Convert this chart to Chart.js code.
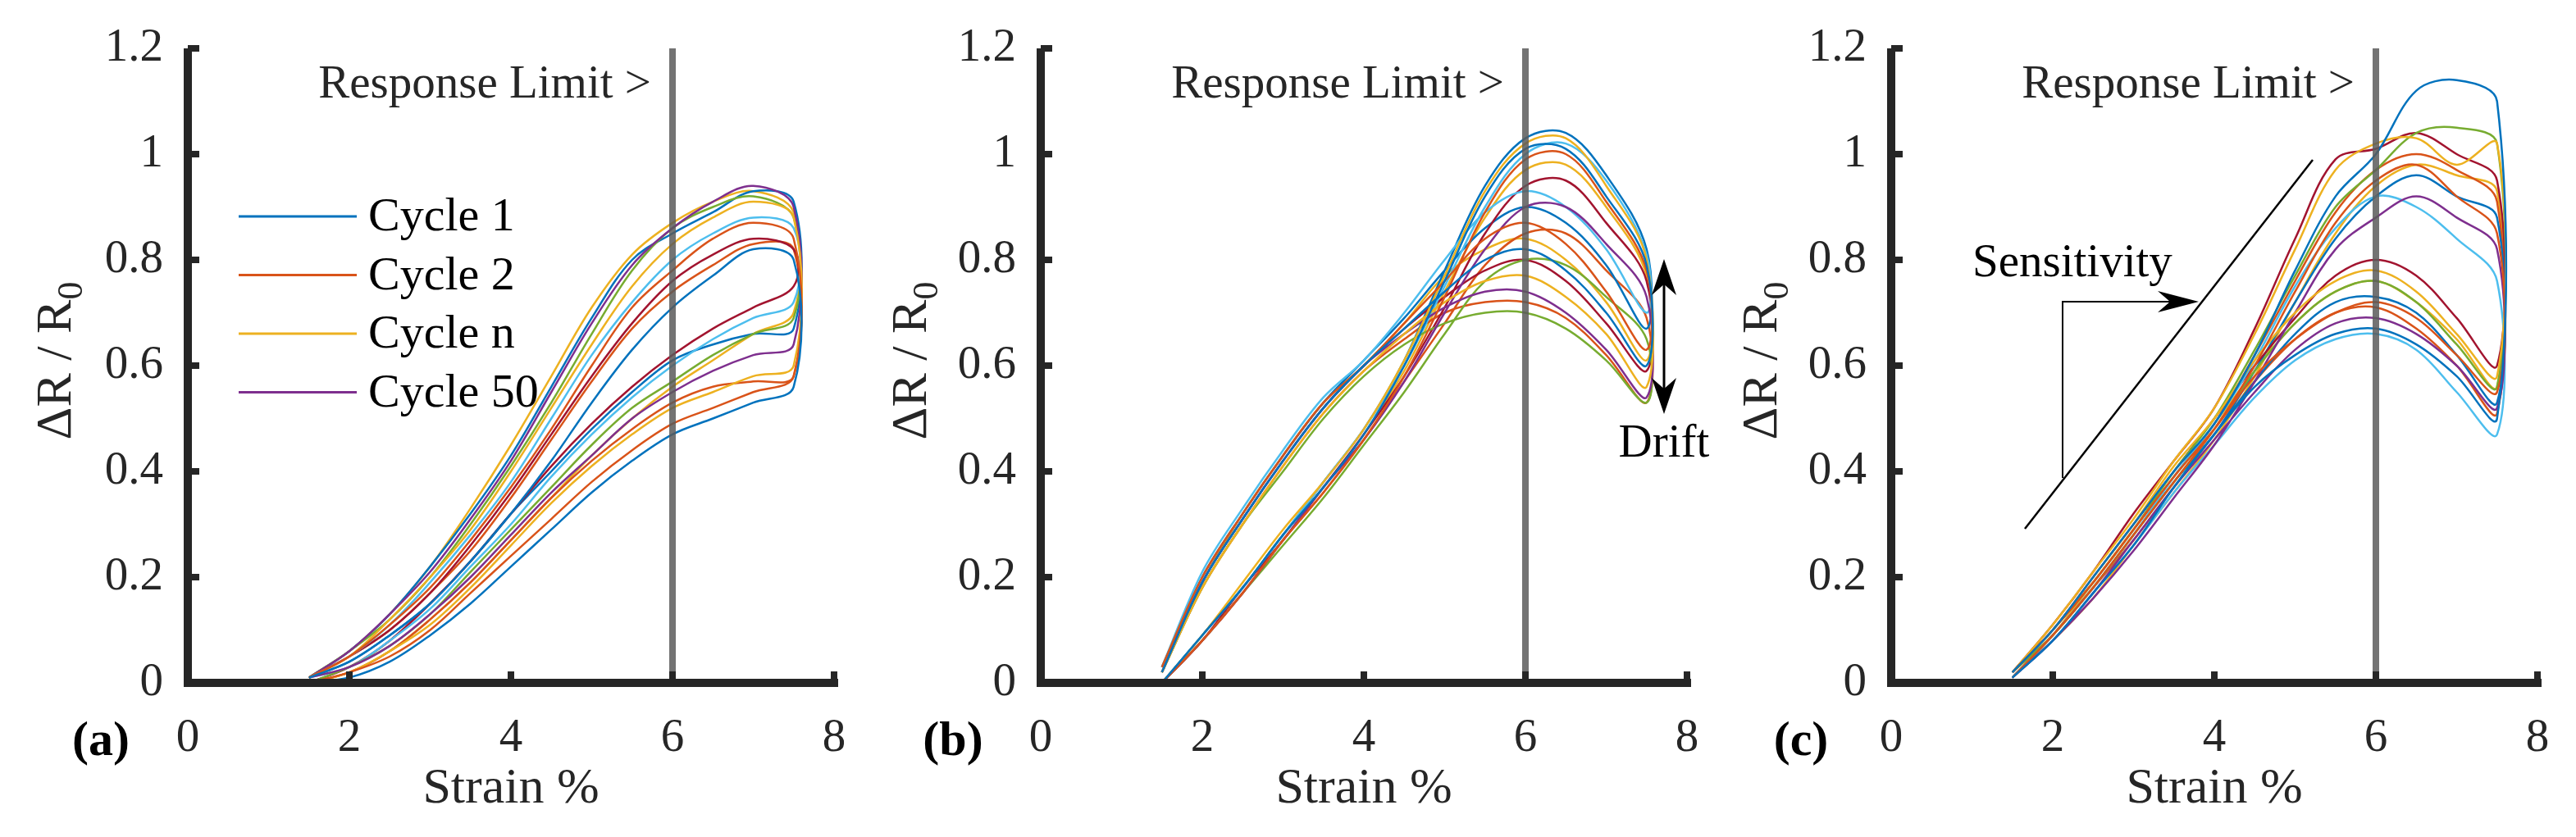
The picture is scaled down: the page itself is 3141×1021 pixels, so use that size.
<!DOCTYPE html>
<html><head><meta charset="utf-8">
<script src="https://cdn.jsdelivr.net/npm/chart.js@4"></script>
<style>body{margin:0;background:#fff;width:3141px;height:1021px;overflow:hidden;position:relative}canvas{position:absolute;top:0}</style>
</head><body>
<canvas id="ca" width="1077" height="1021" style="left:0px"></canvas>
<canvas id="cb" width="1077" height="1021" style="left:1040px"></canvas>
<canvas id="cc" width="1077" height="1021" style="left:2077px"></canvas>
<script>
const strain = [1.5,2,2.5,3,3.5,4,4.5,5,5.5,6,6.5,7,7.5];
const xTicks = [0,2,4,6,8];
const yTicks = [0,0.2,0.4,0.6,0.8,1,1.2];
const responseLimit = 6;
const legendLabels = ['Cycle 1','Cycle 2','Cycle n','Cycle 50'];
const colors = ['#0072BD','#D95319','#EDB120','#7E2F8E','#77AC30','#4DBEEE','#A2142F'];

// panel (a): loading branch / unloading branch per cycle
const aLoad = [
[0,0.01,0.04,0.09,0.15,0.22,0.29,0.36,0.42,0.47,0.50,0.53,0.56],
[0,0.02,0.05,0.10,0.17,0.24,0.31,0.38,0.44,0.49,0.52,0.55,0.58],
[0,0.02,0.06,0.11,0.18,0.26,0.34,0.41,0.47,0.52,0.55,0.58,0.60],
[0.01,0.03,0.07,0.13,0.20,0.28,0.36,0.43,0.50,0.55,0.59,0.62,0.64],
[0,0.03,0.07,0.13,0.21,0.29,0.37,0.45,0.52,0.57,0.62,0.66,0.69],
[0.01,0.03,0.08,0.14,0.22,0.30,0.39,0.47,0.54,0.60,0.65,0.69,0.72],
[0,0.03,0.08,0.15,0.23,0.32,0.41,0.49,0.56,0.62,0.67,0.71,0.75],
[0.01,0.04,0.09,0.15,0.23,0.32,0.40,0.48,0.55,0.61,0.64,0.66,0.67],
[0,0.02,0.06,0.12,0.19,0.27,0.35,0.42,0.48,0.53,0.56,0.57,0.58],
[0,0.02,0.06,0.12,0.19,0.27,0.35,0.43,0.50,0.56,0.61,0.66,0.70]];
const aUnload = [
[0.01,0.04,0.09,0.15,0.23,0.32,0.42,0.53,0.63,0.71,0.77,0.82,0.80],
[0.01,0.05,0.11,0.18,0.27,0.37,0.48,0.60,0.71,0.78,0.84,0.87,0.84],
[0.01,0.05,0.12,0.20,0.29,0.40,0.52,0.64,0.75,0.83,0.88,0.91,0.88],
[0.01,0.06,0.13,0.21,0.31,0.42,0.55,0.68,0.79,0.86,0.91,0.94,0.90],
[0.01,0.06,0.12,0.20,0.30,0.41,0.53,0.66,0.78,0.86,0.90,0.92,0.88],
[0.01,0.05,0.11,0.19,0.28,0.38,0.50,0.62,0.72,0.80,0.85,0.88,0.86],
[0.01,0.05,0.10,0.17,0.26,0.36,0.47,0.58,0.68,0.76,0.81,0.84,0.82],
[0.01,0.06,0.13,0.22,0.32,0.43,0.56,0.69,0.80,0.85,0.89,0.93,0.91],
[0.01,0.05,0.10,0.17,0.25,0.35,0.46,0.57,0.67,0.74,0.79,0.83,0.82],
[0.01,0.06,0.13,0.22,0.33,0.45,0.58,0.71,0.81,0.87,0.91,0.93,0.89]];

// panel (b)
const bLoad = [
[0,0.09,0.18,0.28,0.37,0.47,0.60,0.76,0.92,1.01,1.01,0.92,0.79],
[0,0.08,0.17,0.27,0.36,0.46,0.58,0.73,0.89,0.99,1.00,0.91,0.78],
[0,0.09,0.19,0.29,0.38,0.48,0.61,0.77,0.93,1.02,1.03,0.94,0.80],
[0,0.08,0.17,0.27,0.37,0.46,0.57,0.70,0.82,0.90,0.90,0.83,0.73],
[0,0.08,0.17,0.26,0.35,0.45,0.55,0.66,0.76,0.80,0.79,0.73,0.65],
[0,0.09,0.18,0.28,0.38,0.48,0.60,0.75,0.90,1.00,1.02,0.95,0.81],
[0,0.08,0.18,0.27,0.37,0.47,0.58,0.71,0.85,0.94,0.95,0.87,0.76],
[0,0.09,0.18,0.28,0.38,0.48,0.61,0.78,0.94,1.03,1.04,0.96,0.82],
[0,0.08,0.17,0.27,0.36,0.46,0.57,0.68,0.79,0.85,0.85,0.78,0.69],
[0,0.09,0.18,0.28,0.37,0.47,0.59,0.74,0.88,0.97,0.98,0.90,0.77]];
const bUnload = [
[0.02,0.19,0.31,0.42,0.52,0.60,0.67,0.74,0.80,0.82,0.78,0.70,0.60],
[0.03,0.20,0.32,0.43,0.53,0.60,0.68,0.76,0.84,0.87,0.83,0.74,0.63],
[0.02,0.18,0.30,0.41,0.51,0.59,0.66,0.72,0.76,0.77,0.73,0.66,0.56],
[0.02,0.19,0.31,0.42,0.52,0.60,0.66,0.71,0.74,0.74,0.70,0.63,0.54],
[0.02,0.18,0.30,0.40,0.50,0.58,0.64,0.68,0.70,0.70,0.67,0.61,0.53],
[0.03,0.21,0.33,0.44,0.54,0.61,0.70,0.80,0.89,0.93,0.90,0.82,0.70],
[0.02,0.19,0.31,0.42,0.52,0.60,0.67,0.73,0.78,0.80,0.76,0.68,0.59],
[0.03,0.20,0.32,0.43,0.53,0.61,0.69,0.78,0.86,0.90,0.87,0.79,0.67],
[0.02,0.18,0.30,0.41,0.51,0.59,0.65,0.70,0.72,0.72,0.69,0.62,0.53],
[0.02,0.19,0.32,0.43,0.53,0.60,0.68,0.77,0.82,0.84,0.80,0.72,0.61]];

// panel (c)
const cLoad = [
[0.02,0.10,0.20,0.30,0.40,0.49,0.62,0.78,0.92,1.00,1.12,1.14,1.10],
[0.01,0.09,0.18,0.28,0.38,0.48,0.60,0.74,0.87,0.95,0.98,0.92,0.85],
[0.02,0.11,0.21,0.31,0.42,0.52,0.66,0.82,0.97,1.02,1.03,0.98,1.02],
[0.01,0.08,0.16,0.25,0.35,0.45,0.57,0.70,0.82,0.88,0.92,0.88,0.82],
[0.02,0.10,0.19,0.29,0.40,0.50,0.63,0.77,0.90,0.97,1.04,1.05,1.02],
[0.01,0.09,0.18,0.28,0.39,0.49,0.61,0.75,0.86,0.92,0.90,0.84,0.76],
[0.02,0.11,0.21,0.32,0.42,0.52,0.67,0.84,0.99,1.01,1.04,1.00,0.95],
[0.01,0.09,0.18,0.28,0.38,0.47,0.59,0.72,0.84,0.92,0.96,0.92,0.88],
[0.02,0.10,0.19,0.29,0.39,0.49,0.62,0.76,0.89,0.97,1.00,0.97,0.91],
[0.01,0.08,0.16,0.26,0.36,0.46,0.58,0.72,0.85,0.94,0.98,0.96,0.93]];
const cUnload = [
[0.01,0.08,0.17,0.26,0.37,0.47,0.56,0.62,0.66,0.67,0.64,0.58,0.50],
[0.02,0.10,0.19,0.29,0.39,0.48,0.58,0.65,0.70,0.72,0.69,0.62,0.55],
[0.02,0.10,0.20,0.30,0.41,0.50,0.61,0.70,0.76,0.78,0.74,0.66,0.58],
[0.01,0.08,0.17,0.27,0.37,0.46,0.55,0.63,0.68,0.69,0.66,0.60,0.52],
[0.02,0.09,0.18,0.28,0.38,0.48,0.59,0.68,0.74,0.76,0.72,0.64,0.56],
[0.01,0.08,0.17,0.26,0.36,0.45,0.54,0.61,0.65,0.66,0.63,0.55,0.47],
[0.02,0.10,0.20,0.30,0.40,0.50,0.60,0.69,0.77,0.80,0.77,0.69,0.60],
[0.01,0.09,0.18,0.28,0.38,0.47,0.57,0.66,0.72,0.73,0.70,0.62,0.53],
[0.02,0.09,0.18,0.27,0.37,0.47,0.57,0.65,0.70,0.71,0.67,0.60,0.51],
[0.01,0.09,0.19,0.29,0.39,0.49,0.59,0.68,0.74,0.76,0.72,0.65,0.56]];

const INK = '#262626';
const SERIF = "'Liberation Serif'";
Chart.defaults.font.family = SERIF;

function loopData(load, unload){
  const pts = strain.map((x,i)=>({x, y:load[i]}));
  for(let i=strain.length-1;i>=0;i--) pts.push({x:strain[i], y:unload[i]});
  return pts;
}

function arrowHead(ctx, x, y, ang, len, wid){
  ctx.save(); ctx.translate(x,y); ctx.rotate(ang);
  ctx.beginPath(); ctx.moveTo(0,0); ctx.lineTo(-len, -wid/2); ctx.lineTo(-len*0.7,0); ctx.lineTo(-len, wid/2); ctx.closePath();
  ctx.fill(); ctx.restore();
}
function f(px, bold){ return (bold?'bold ':'') + px + 'px ' + SERIF; }

const decor = {
  id:'decor',
  afterDatasetsDraw(chart, args, opts){
    const ctx = chart.ctx, xs = chart.scales.x, ys = chart.scales.y;
    const L = xs.left, R = xs.right, T = ys.top, B = ys.bottom;
    ctx.save();
    ctx.strokeStyle = INK; ctx.lineWidth = 10; ctx.lineCap='butt';
    ctx.beginPath(); ctx.moveTo(L, T); ctx.lineTo(L, B+5); ctx.moveTo(L-5, B); ctx.lineTo(R+5, B); ctx.stroke();
    ctx.lineWidth = 8;
    xTicks.forEach(v=>{ if(v===0) return; const p = xs.getPixelForValue(v); ctx.beginPath(); ctx.moveTo(p, B); ctx.lineTo(p, B-14); ctx.stroke(); });
    yTicks.forEach(v=>{ if(v===0) return; const p = ys.getPixelForValue(v); ctx.beginPath(); ctx.moveTo(L, p); ctx.lineTo(L+14, p); ctx.stroke(); });
    ctx.fillStyle = INK; ctx.textAlign='center'; ctx.textBaseline='middle';
    ctx.font = f(62);
    ctx.fillText('Strain %', (L+R)/2, 963);
    ctx.save();
    ctx.translate(opts.ytx, 440); ctx.rotate(-Math.PI/2);
    const main = 'ΔR / R'; ctx.font=f(62);
    const w1 = ctx.measureText(main).width; ctx.font=f(44); const w2 = ctx.measureText('0').width;
    const st = -(w1+w2)/2;
    ctx.textAlign='left'; ctx.font=f(62); ctx.fillText(main, st, 0);
    ctx.font=f(44); ctx.fillText('0', st+w1, 18);
    ctx.restore();
    ctx.font = f(60,true); ctx.fillStyle='#000'; ctx.textAlign='center';
    ctx.fillText(opts.label, opts.labelX, 905);
    ctx.font = f(57); ctx.fillStyle = INK; ctx.textAlign='right';
    ctx.fillText('Response Limit >', xs.getPixelForValue(responseLimit)-26, 104);
    ctx.fillStyle='#000'; ctx.strokeStyle='#000';
    if(opts.legend){
      ctx.textAlign='left'; ctx.font=f(58);
      legendLabels.forEach((t,i)=>{
        const y = 264 + i*71.5;
        ctx.strokeStyle = colors[i]; ctx.lineWidth = 3;
        ctx.beginPath(); ctx.moveTo(291, y); ctx.lineTo(435, y); ctx.stroke();
        ctx.fillStyle='#000'; ctx.fillText(t, 449, y+2);
      });
    }
    if(opts.drift){
      const x = 989;
      ctx.lineWidth = 3; ctx.beginPath(); ctx.moveTo(x, 330); ctx.lineTo(x, 492); ctx.stroke();
      arrowHead(ctx, x, 316, -Math.PI/2, 44, 30);
      arrowHead(ctx, x, 505, Math.PI/2, 44, 30);
      ctx.textAlign='center'; ctx.font=f(57); ctx.fillText('Drift', x, 542);
    }
    if(opts.sens){
      ctx.lineWidth = 2.5;
      ctx.beginPath(); ctx.moveTo(392, 645); ctx.lineTo(743, 195); ctx.stroke();
      ctx.lineWidth = 2;
      ctx.beginPath(); ctx.moveTo(438, 583); ctx.lineTo(438, 368); ctx.lineTo(590, 368); ctx.stroke();
      arrowHead(ctx, 604, 368, 0, 50, 26);
      ctx.textAlign='left'; ctx.font=f(57); ctx.fillText('Sensitivity', 328, 322);
    }
    ctx.restore();
  }
};

function makeChart(id, load, unload, opts){
  const ds = [{
    data:[{x:responseLimit,y:0},{x:responseLimit,y:1.2}], borderColor:'rgba(90,90,90,0.85)', borderWidth:8,
    pointRadius:0, showLine:true, tension:0, order:0
  }];
  load.forEach((l,i)=>ds.push({
    data: loopData(l, unload[i]), borderColor: colors[i%colors.length], borderWidth:2.5,
    pointRadius:0, showLine:true, tension:0.35, fill:false, order:1
  }));
  new Chart(document.getElementById(id), {
    type:'scatter',
    data:{datasets:ds},
    options:{
      responsive:false, animation:false, devicePixelRatio:1,
      layout:{padding:{top:59,right:60,left:0,bottom:0}},
      plugins:{legend:{display:false}, tooltip:{enabled:false}, decor:opts},
      scales:{
        x:{type:'linear', min:0, max:8, afterBuildTicks(s){s.ticks = xTicks.map(v=>({value:v}));},
           afterFit(s){s.height = 1021-833;},
           grid:{display:false}, border:{display:false},
           ticks:{font:{family:SERIF,size:57}, color:INK, padding:26}},
        y:{type:'linear', min:0, max:1.2, afterBuildTicks(s){s.ticks = yTicks.map(v=>({value:v}));},
           afterFit(s){s.width = 229;},
           grid:{display:false}, border:{display:false},
           ticks:{font:{family:SERIF,size:57}, color:INK, padding:22, callback:v=>String(Number(v.toFixed(1)))}}
      }
    },
    plugins:[decor]
  });
}

makeChart('ca', aLoad, aUnload, {label:'(a)', labelX:123, ytx:70, legend:true});
makeChart('cb', bLoad, bUnload, {label:'(b)', labelX:122, ytx:73, drift:true});
makeChart('cc', cLoad, cUnload, {label:'(c)', labelX:119, ytx:73, sens:true});
</script>
</body></html>
